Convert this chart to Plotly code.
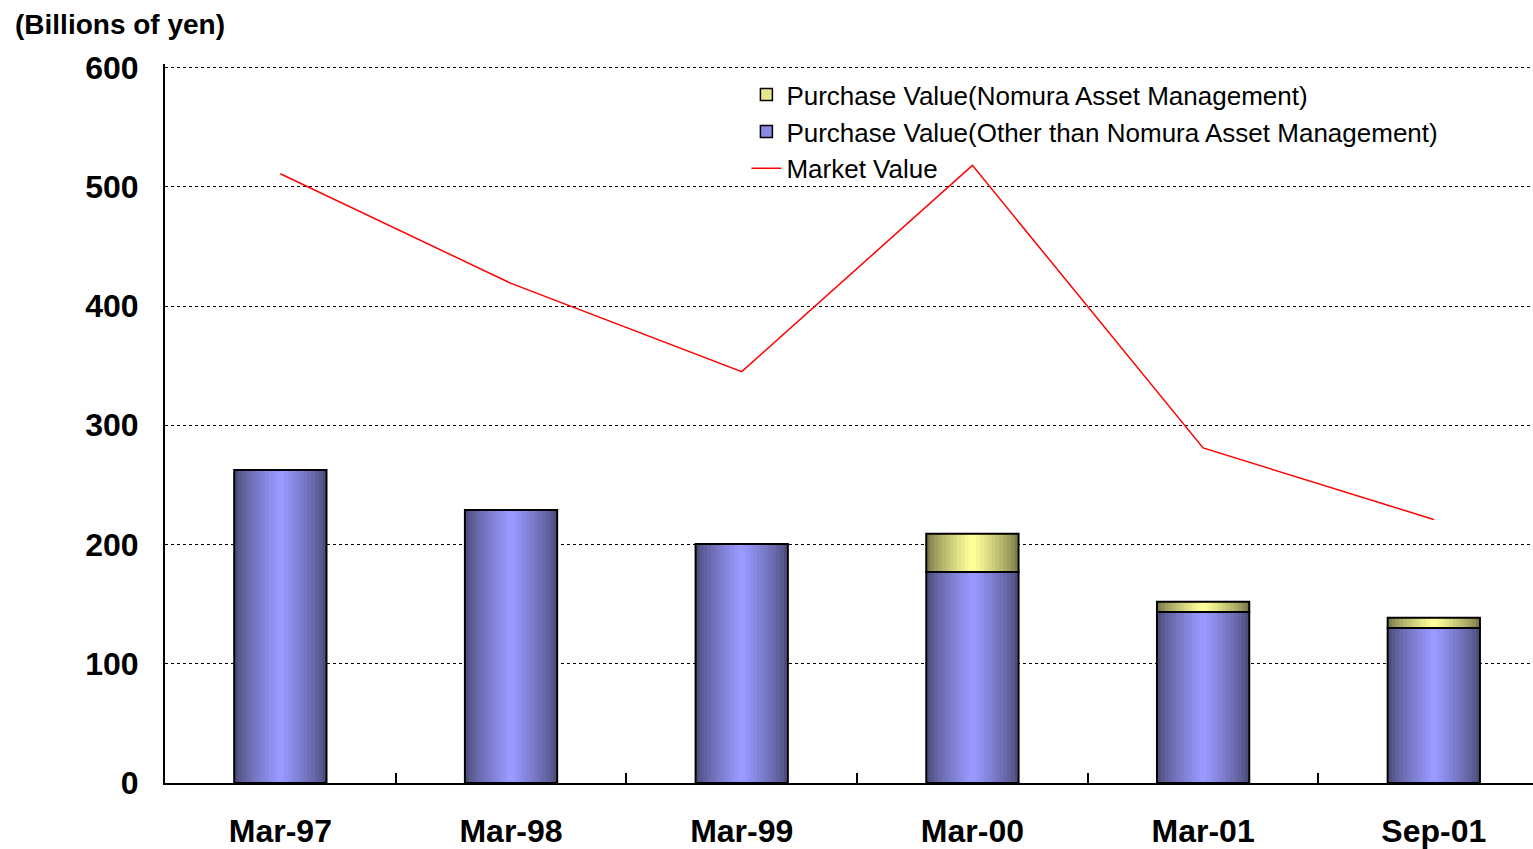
import plotly.graph_objects as go

# data (billions of yen)
periods = ["Mar-97", "Mar-98", "Mar-99", "Mar-00", "Mar-01", "Sep-01"]
purchase_other = [262.5, 229, 200.5, 177, 143.5, 130]
purchase_nomura = [0, 0, 0, 32, 8.5, 8.5]
market_value = [511, 419, 345, 518, 281, 221]

_FONT = "Liberation Sans, Arial, sans-serif"
BAR_W = 0.40
N_LAYERS = 12


def _mix(c1, c2, t):
    return "rgb(%d,%d,%d)" % tuple(round(a + (b - a) * t) for a, b in zip(c1, c2))


def add_gradient_bars(fig, y, base, dark, light):
    """fake a cylinder shading with narrowing overlaid bars"""
    for k in range(N_LAYERS):
        t = k / (N_LAYERS - 1)
        fig.add_trace(go.Bar(
            x=periods, y=y, base=base,
            width=BAR_W * (1 - k / N_LAYERS),
            marker=dict(color=_mix(dark, light, t ** 0.8), line=dict(width=0)),
            showlegend=False, hoverinfo="skip",
        ))
    fig.add_trace(go.Bar(
        x=periods, y=y, base=base, width=BAR_W,
        marker=dict(color="rgba(0,0,0,0)", line=dict(color="black", width=2)),
        showlegend=False, hoverinfo="skip",
    ))


fig = go.Figure()

nomura_y = [v if v > 0 else None for v in purchase_nomura]
add_gradient_bars(fig, purchase_other, [0] * len(periods), (78, 78, 125), (153, 153, 255))
add_gradient_bars(fig, nomura_y, purchase_other, (125, 125, 75), (255, 255, 153))

# legend entries
fig.add_trace(go.Bar(
    x=periods, y=[None] * len(periods), name="Purchase Value(Nomura Asset Management)",
    marker=dict(color="#E6E68A", line=dict(color="black", width=1.5)),
))
fig.add_trace(go.Bar(
    x=periods, y=[None] * len(periods), name="Purchase Value(Other than Nomura Asset Management)",
    marker=dict(color="#8A8AE6", line=dict(color="black", width=1.5)),
))
fig.add_trace(go.Scatter(
    x=periods, y=market_value, name="Market Value",
    mode="lines", line=dict(color="#FF0000", width=1.5),
))

fig.update_layout(
    width=1533, height=849,
    barmode="overlay",
    plot_bgcolor="#fff", paper_bgcolor="#fff",
    margin=dict(l=165, r=0, t=64, b=66),
    font=dict(family=_FONT, color="black"),
    title=dict(text="(Billions of yen)", x=0.0098, xanchor="left", y=0.971, yanchor="middle",
               font=dict(family=_FONT, size=28, weight="bold", color="black")),
    xaxis=dict(
        type="category", range=[-0.5, 5.43], automargin=False,
        showline=True, linecolor="black", linewidth=2,
        ticks="inside", tickson="boundaries", ticklen=10, tickcolor="black", tickwidth=1.5,
        ticklabelstandoff=19,
        tickfont=dict(family=_FONT, size=32, weight="bold"),
        showgrid=False,
    ),
    yaxis=dict(
        range=[0, 603], tickvals=[0, 100, 200, 300, 400, 500, 600], automargin=False,
        showline=True, linecolor="black", linewidth=2,
        showgrid=True, gridcolor="black", griddash="dot", gridwidth=1,
        zeroline=False, ticks="", ticklabelstandoff=18,
        tickfont=dict(family=_FONT, size=32, weight="bold"),
    ),
    legend=dict(
        x=0.425, y=0.99, xanchor="left", yanchor="top",
        bgcolor="rgba(0,0,0,0)", traceorder="normal", tracegroupgap=0,
        font=dict(family=_FONT, size=26, color="black"),
    ),
)

fig.write_html("out.html", config={"displayModeBar": False},
               post_script="document.body.style.margin='0';")
